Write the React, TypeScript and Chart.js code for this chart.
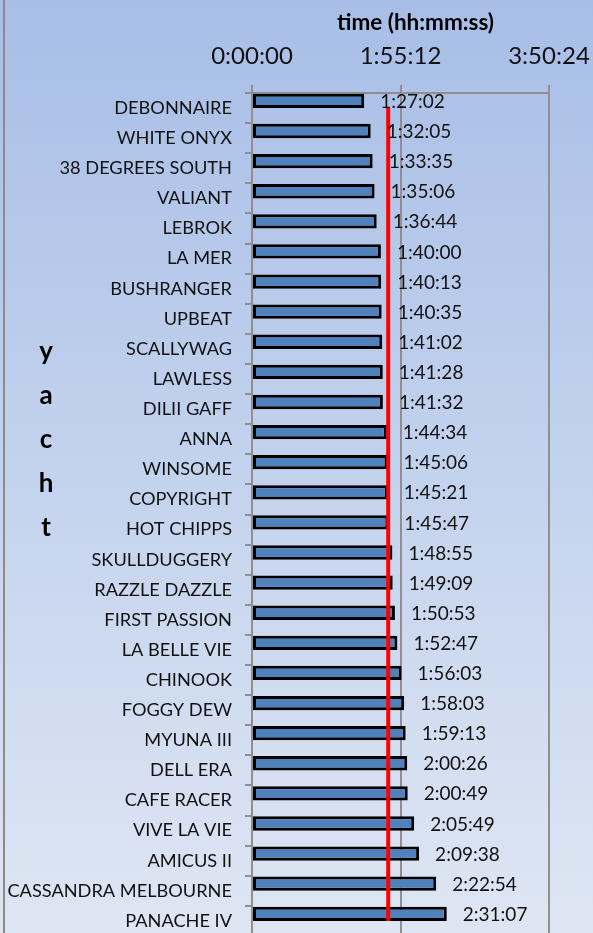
import React, { useEffect, useRef } from "react";
import { Chart, registerables } from "chart.js";

Chart.register(...registerables);

const yachts = [
  "DEBONNAIRE", "WHITE ONYX", "38 DEGREES SOUTH", "VALIANT", "LEBROK", "LA MER",
  "BUSHRANGER", "UPBEAT", "SCALLYWAG", "LAWLESS", "DILII GAFF", "ANNA", "WINSOME",
  "COPYRIGHT", "HOT CHIPPS", "SKULLDUGGERY", "RAZZLE DAZZLE", "FIRST PASSION",
  "LA BELLE VIE", "CHINOOK", "FOGGY DEW", "MYUNA III", "DELL ERA", "CAFE RACER",
  "VIVE LA VIE", "AMICUS II", "CASSANDRA MELBOURNE", "PANACHE IV",
];

const elapsedTimes = [
  "1:27:02", "1:32:05", "1:33:35", "1:35:06", "1:36:44", "1:40:00",
  "1:40:13", "1:40:35", "1:41:02", "1:41:28", "1:41:32", "1:44:34", "1:45:06",
  "1:45:21", "1:45:47", "1:48:55", "1:49:09", "1:50:53",
  "1:52:47", "1:56:03", "1:58:03", "1:59:13", "2:00:26", "2:00:49",
  "2:05:49", "2:09:38", "2:22:54", "2:31:07",
];

const referenceTime = "1:45:40";
const axisTicks = ["0:00:00", "1:55:12", "3:50:24"];
const xTitle = "time (hh:mm:ss)";
const yTitle = ["y", "a", "c", "h", "t"];

const toSec = (s: string) => {
  const [h, m, sec] = s.split(":").map(Number);
  return h * 3600 + m * 60 + sec;
};
const fmt = (v: number) => {
  const h = Math.floor(v / 3600);
  const m = Math.floor((v % 3600) / 60);
  const s = Math.round(v % 60);
  return `${h}:${String(m).padStart(2, "0")}:${String(s).padStart(2, "0")}`;
};

const FONT = "Lato, 'Open Sans', sans-serif";

export default function App() {
  const ref = useRef<HTMLCanvasElement | null>(null);
  useEffect(() => {
    const canvas = ref.current!;
    const seconds = elapsedTimes.map(toSec);
    const tickSecs = axisTicks.map(toSec);
    const refSec = toSec(referenceTime);

    const bgPlugin = {
      id: "bg",
      beforeDraw(chart: any) {
        const { ctx, width, height } = chart;
        ctx.save();
        const g = ctx.createLinearGradient(0, 0, 0, 933);
        g.addColorStop(0, "#a8bee7");
        g.addColorStop(1, "#dee6f3");
        ctx.fillStyle = g;
        ctx.fillRect(0, 0, width, height);
        ctx.fillStyle = "#8a8a8a";
        ctx.fillRect(3, 0, 2, height);
        ctx.restore();
      },
    };

    const labelPlugin = {
      id: "labels",
      afterDraw(chart: any) {
        const { ctx, chartArea } = chart;
        ctx.save();
        const meta = chart.getDatasetMeta(0);
        ctx.font = `19px ${FONT}`;
        ctx.fillStyle = "#111";
        ctx.textAlign = "left";
        ctx.textBaseline = "middle";
        meta.data.forEach((el: any, i: number) => {
          ctx.fillText(elapsedTimes[i], el.x + 16, el.y + 1);
        });
        ctx.font = `bold 22.5px ${FONT}`;
        ctx.textAlign = "center";
        ctx.fillStyle = "#000";
        ctx.fillText(xTitle, (chartArea.left + chartArea.right) / 2 + 15, 23);
        ctx.font = `bold 26px ${FONT}`;
        yTitle.forEach((ch, i) => {
          ctx.fillText(ch, 46, chartArea.top + 259 + i * 44);
        });
        ctx.restore();
      },
    };

    const chart = new Chart(canvas, {
      type: "bar",
      data: {
        labels: yachts,
        datasets: [
          {
            type: "bar",
            data: seconds,
            backgroundColor: "#4f81bd",
            borderColor: "#000000",
            borderWidth: 3,
            borderSkipped: false,
            categoryPercentage: 0.95,
            barPercentage: 1,
            order: 1,
          } as any,
          {
            type: "bar",
            data: yachts.map(() => null),
            backgroundColor: "transparent",
            categoryPercentage: 0.95,
            barPercentage: 1,
            order: 1,
          } as any,
          {
            type: "line",
            data: [
              { x: refSec, y: yachts[0] },
              { x: refSec, y: yachts[yachts.length - 1] },
            ],
            borderColor: "#ff0000",
            borderWidth: 4,
            pointRadius: 0,
            order: 0,
          } as any,
        ],
      },
      options: {
        indexAxis: "y",
        animation: false,
        responsive: false,
        devicePixelRatio: 1,
        layout: { padding: { top: 0, right: 44, bottom: 4, left: 0 } },
        plugins: { legend: { display: false }, tooltip: { enabled: false }, title: { display: false } },
        scales: {
          x: {
            type: "linear",
            position: "top",
            min: tickSecs[0],
            max: tickSecs[2],
            afterBuildTicks: (scale: any) => {
              scale.ticks = tickSecs.map((v) => ({ value: v }));
            },
            afterFit: (scale: any) => {
              scale.height = 93;
              scale.paddingLeft = 0;
              scale.paddingRight = 0;
            },
            ticks: {
              font: { family: FONT, size: 24 },
              color: "#111",
              padding: 14,
              maxRotation: 0,
              callback: (v: any) => fmt(Number(v)),
            },
            grid: { color: "#8f8f8f", lineWidth: 2, tickLength: 8 },
            border: { display: true, color: "#8f8f8f", width: 2 },
          },
          y: {
            type: "category",
            afterFit: (scale: any) => {
              scale.width = 252;
              scale.paddingTop = 0;
              scale.paddingBottom = 0;
            },
            ticks: {
              font: { family: FONT, size: 18.2 },
              color: "#111",
              padding: 13,
              autoSkip: false,
            },
            grid: { drawOnChartArea: false, color: "#8f8f8f", lineWidth: 2, tickLength: 7, offset: true },
            border: { display: true, color: "#8f8f8f", width: 2 },
          },
        },
      } as any,
      plugins: [bgPlugin, labelPlugin],
    });
    return () => chart.destroy();
  }, []);

  return (
    <div style={{ position: "fixed", left: 0, top: 0, width: 593, height: 933, overflow: "hidden" }}>
      <canvas ref={ref} width={593} height={940} style={{ display: "block", width: 593, height: 940 }} />
    </div>
  );
}
